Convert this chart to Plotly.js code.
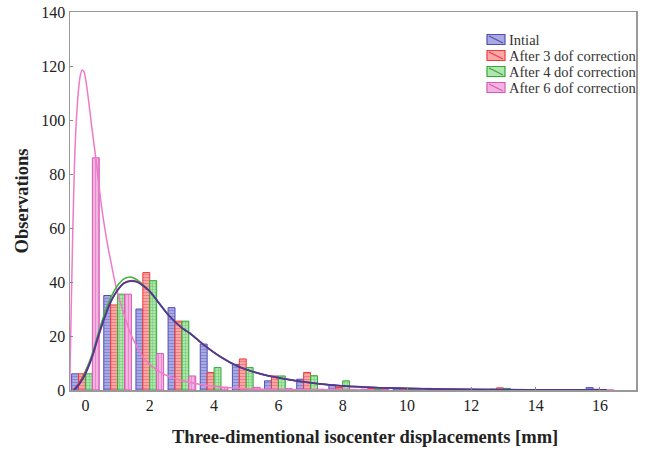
<!DOCTYPE html>
<html>
<head>
<meta charset="utf-8">
<script src="https://cdn.plot.ly/plotly-3.0.1.min.js"></script>
<style>html,body{margin:0;padding:0;background:#fff;}#chart{width:656px;height:450px;}</style>
</head>
<body>
<div id="chart"></div>
<script>
// Histogram bins (mm)
const bins = [0,1,2,3,4,5,6,7,8,9,10,11,12,13,14,15,16];
// Observations per bin
const initial = [6,35,30,30.5,17,9.5,3.4,4,1.9,0.3,0.5,0.6,0.2,0.3,0,0,0.9];
const dof3    = [6,31.5,43.5,25.5,6.5,11.5,5.2,6.5,0.9,0.6,0.4,0.2,0.2,0.8,0,0,0.3];
const dof4    = [6,35.5,40.5,25.5,8.3,8.3,5.2,5.3,3.4,0.3,0.2,0.2,0.2,0.6,0,0,0];
const dof6    = [86,35.5,13.5,5.2,1,1,0.5,0.3,0.2,0.3,0,0,0,0,0,0,0];
const seriesNames = ["Intial","After 3 dof correction","After 4 dof correction","After 6 dof correction"];
const xTitle = "Three-dimentional isocenter displacements [mm]";
const yTitle = "Observations";

// Fitted curves
const fitX_init = [-0.35,-0.2,0,0.2,0.4,0.6,0.8,1.0,1.2,1.4,1.6,1.8,2.0,2.3,2.6,3.0,3.25,3.65,4.2,4.7,5.2,5.7,6.25,6.8,7.5,8,9,10,11,12,13,14,15,16.2];
const fitY_init = [0,2,6,12,20,27,33,37,39.5,40.3,40,38.5,36.5,32,27.5,23,21,17,12.3,9,6.8,5.2,4,3,2,1.5,0.9,0.6,0.35,0.2,0.12,0.07,0.04,0.02];
const fitX_3 = [-0.37,-0.2,0,0.2,0.4,0.6,0.8,1.0,1.2,1.4,1.6,1.8,2.0,2.3,2.6,3.0,3.25,3.65,4.2,4.7,5.2,5.7,6.25,6.8,7.5,8,9,10,11,12,13,14,15,16.2];
const fitY_3 = [0,2.5,6.5,12,19.5,27,33,37,39.7,40.5,40.2,38.7,36.6,32,27.5,23,21,17,12.3,9,6.8,5.2,4,3,2,1.5,0.9,0.6,0.35,0.2,0.12,0.07,0.04,0.02];
const fitX_4 = [-0.37,-0.2,0,0.2,0.4,0.6,0.8,1.0,1.2,1.35,1.5,1.7,2.0,2.3,2.6,3.0,3.25,3.65,4.2,4.7,5.2,5.7,6.25,6.8,7.5,8,9,10,11,12,13,14,15,16.2];
const fitY_4 = [0,2.5,7,13,21,28.5,34.5,38.7,41.2,41.8,41.5,40,36.5,32,27.5,23,21,17,12.3,9,6.8,5.2,4,3,2,1.5,0.9,0.6,0.35,0.2,0.12,0.07,0.04,0.02];
const fitX_6 = [-0.49,-0.45,-0.4,-0.35,-0.3,-0.25,-0.2,-0.15,-0.1,-0.05,0,0.1,0.2,0.3,0.4,0.5,0.6,0.7,0.8,0.9,1.0,1.2,1.4,1.6,1.8,2.0,2.3,2.6,3.0,3.5,4.0,4.5,5,6,7,8,9];
const fitY_6 = [0,25,55,80,96,106,113,117,118.5,118,115.5,107,97,88,78,68,60,53,47,41,36,28,21,16,12,9.5,6.8,5,3.5,2.2,1.4,0.8,0.5,0.2,0.1,0.05,0];

const styles = [
  {edge:'#5050b4', bg:'#a9a9e2', fg:'#7c7cd0', shape:'-'},
  {edge:'#f03a3a', bg:'#f9a7a7', fg:'#f26d6d', shape:'-'},
  {edge:'#34aa34', bg:'#b0e4b0', fg:'#5cc45c', shape:'+'},
  {edge:'#d85ab8', bg:'#f2b3de', fg:'#e07cc8', shape:'|'}
];
const vals = [initial, dof3, dof4, dof6];

const traces = vals.map((v,i)=>({
  type:'bar', x:bins, y:v, name:seriesNames[i],
  marker:{color:styles[i].bg, line:{color:styles[i].edge,width:1},
    pattern:{shape:styles[i].shape, fgcolor:styles[i].fg, bgcolor:styles[i].bg, size:3, solidity:0.25}},
  showlegend:false, hoverinfo:'x+y'
}));

const curves = [
  {x:fitX_6, y:fitY_6, color:'#f07ac8', w:1.5},
  {x:fitX_4, y:fitY_4, color:'#3cb43c', w:1.5},
  {x:fitX_3, y:fitY_3, color:'#e8303c', w:1.5},
  {x:fitX_init, y:fitY_init, color:'#4a3a9c', w:1.8}
].map(c=>({type:'scatter', mode:'lines', x:c.x, y:c.y, line:{color:c.color, width:c.w, shape:'spline'}, showlegend:false, hoverinfo:'skip'}));

// Legend drawn in paper coordinates (plot area: left 70, right 636, top 12, bottom 390 px)
const PL=70, PW=566, PT=12, PH=378;
const px = p => (p-PL)/PW;
const py = p => (PT+PH-p)/PH;
const shapes = [], annotations = [];
const rowY = [39.5, 55.5, 71.5, 87.5];
seriesNames.forEach((n,i)=>{
  const yc = rowY[i];
  shapes.push({type:'rect', xref:'paper', yref:'paper', x0:px(487), x1:px(505), y0:py(yc+5), y1:py(yc-5),
    fillcolor:styles[i].bg, line:{color:styles[i].edge, width:1.2}});
  shapes.push({type:'line', xref:'paper', yref:'paper', x0:px(489), x1:px(503), y0:py(yc-3.5), y1:py(yc+3.5),
    line:{color:styles[i].edge, width:1.2}});
  annotations.push({xref:'paper', yref:'paper', x:px(507), y:py(yc), xanchor:'left', yanchor:'middle',
    text:n, showarrow:false, font:{size:14.5, color:'#333'}});
});
annotations.push({xref:'paper', yref:'paper', x:px(365), y:py(437), xanchor:'center', yanchor:'middle',
  text:'<b>'+xTitle+'</b>', showarrow:false, font:{size:18.5, color:'#222'}});

const layout = {
  width:656, height:450,
  margin:{l:70, r:20, t:12, b:60},
  paper_bgcolor:'#fff', plot_bgcolor:'#fff',
  barmode:'group', bargap:0.14, bargroupgap:0,
  font:{family:'"Liberation Serif", "Times New Roman", serif', color:'#222', size:16},
  xaxis:{range:[-0.48,17.12], tickvals:[0,2,4,6,8,10,12,14,16], ticks:'inside', ticklen:3, tickcolor:'#888',
    showline:true, linecolor:'#999', linewidth:1.5, mirror:true, showgrid:false, zeroline:false,
    tickfont:{size:16}},
  yaxis:{range:[0,140], dtick:20, ticks:'inside', ticklen:3, tickcolor:'#888',
    showline:true, linecolor:'#999', linewidth:1.5, mirror:true, showgrid:false, zeroline:false,
    tickfont:{size:16}, title:{text:'<b>'+yTitle+'</b>', font:{size:18.5}, standoff:8}},
  shapes:shapes, annotations:annotations,
  showlegend:false
};

Plotly.newPlot('chart', traces.concat(curves), layout, {displayModeBar:false, staticPlot:true});
</script>
</body>
</html>
